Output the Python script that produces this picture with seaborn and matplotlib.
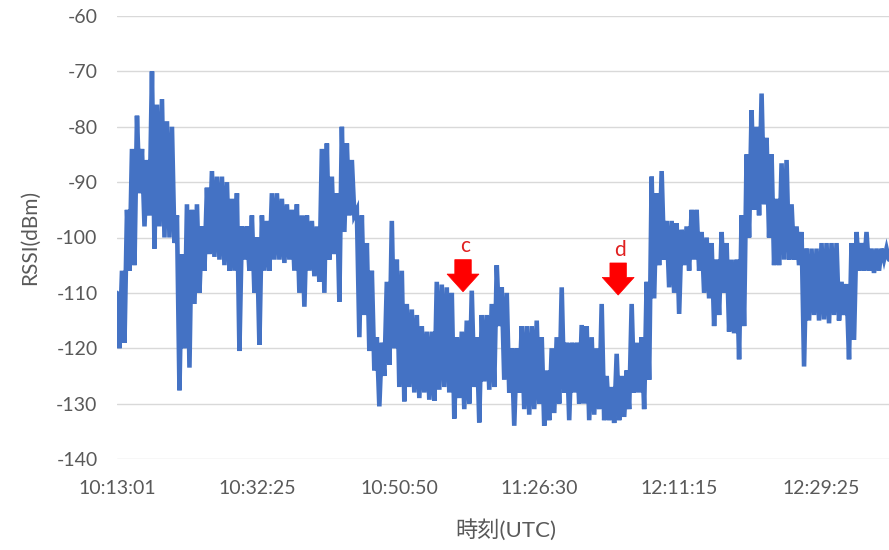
import numpy as np
import pandas as pd
import matplotlib
matplotlib.use("Agg")
import matplotlib.pyplot as plt
from matplotlib.patches import Polygon
import seaborn as sns

# Received signal strength, read as upper / lower swing of each short window (dBm)
rssi_peak = [
    -110, -106, -95, -84, -78, -84, -86, -70, -76, -75,
    -79, -80, -96, -103, -94, -95, -94, -98, -91, -88,
    -89, -89, -90, -93, -92, -98, -98, -96, -100, -96,
    -97, -92, -92, -93, -94, -95, -94, -96, -96, -97,
    -98, -84, -83, -89, -92, -80, -83, -86, -95, -96,
    -101, -106, -118, -119, -108, -97, -104, -106, -112, -113,
    -114, -116, -117, -117, -108, -108.5, -109, -110, -118, -117,
    -115, -109.6, -118, -114, -114, -112, -105, -109, -110, -120,
    -120, -116, -116, -116, -115, -118, -124, -120, -118, -109,
    -119, -119, -119, -115.8, -116, -118, -120, -112, -125, -127,
    -121, -125, -124, -112, -119, -118, -108, -89, -92, -88,
    -97, -97, -97.4, -98.6, -98, -95, -95, -99, -100, -101,
    -104, -99, -101, -104, -104, -96, -85, -77, -80, -74,
    -82, -85, -93, -86.6, -86, -94, -98, -99, -102, -102,
    -102, -101, -101, -101, -101, -108, -108.4, -101, -99, -101,
    -99, -102, -102, -102, -102,
]
rssi_dip = [
    -120, -119, -106, -105, -92, -98, -96, -102, -98, -100,
    -100, -101, -127.6, -120, -123.5, -112, -110, -106, -103, -103.5,
    -104, -105, -106, -106, -120.5, -104, -106, -110, -119.4, -106,
    -106, -104, -104, -104.6, -104, -106, -110, -112.5, -106, -107,
    -108, -110, -104, -103, -111.6, -99, -96, -96, -118, -114,
    -120.5, -124, -130.5, -125, -123, -120, -127, -129.6, -127, -128,
    -129, -128, -129.3, -129.5, -127.5, -127, -128, -132.7, -129, -131,
    -130, -127, -133.4, -126, -127.5, -127, -116, -125.7, -128, -134,
    -128, -131, -132, -131, -130, -134, -133, -131.7, -130, -128,
    -133, -128, -130, -130, -133, -132, -131, -133, -133, -133.5,
    -133, -132.4, -131, -128, -128, -131, -125.7, -111, -105, -104,
    -109, -110, -113.8, -105, -106, -104, -106, -110, -111, -116,
    -114, -110, -117, -117.3, -122, -116, -100, -95, -96, -94,
    -100, -105, -105, -104, -104, -104, -105, -123.3, -115, -114,
    -115, -114.8, -115.5, -114, -115, -114, -122, -118.5, -106, -106,
    -106, -106.4, -106, -104, -104,
]

time_labels = ["10:13:01", "10:32:25", "10:50:50", "11:26:30", "12:11:15", "12:29:25"]
time_label_samples = [0, 56, 113, 169, 225, 282]
y_ticks = list(range(-140, -59, 10))

marker_names = ["c", "d"]
marker_samples = [138.5, 200.6]
marker_tip_rssi = [-109.8, -110.4]

# one line through alternating peak / dip readings
rssi = np.empty(2 * len(rssi_peak))
rssi[0::2] = rssi_peak
rssi[1::2] = rssi_dip
df = pd.DataFrame({"sample": np.arange(len(rssi)), "rssi": rssi})

sns.set_theme(style="whitegrid")
plt.rcParams["font.family"] = ["Lato", "Noto Sans CJK JP", "DejaVu Sans"]

fig = plt.figure(figsize=(8.89, 5.5), dpi=100)
fig.patch.set_facecolor("white")
ax = fig.add_axes([117 / 889, 91 / 550, 772 / 889, 443 / 550])
ax.set_facecolor("white")

sns.lineplot(data=df, x="sample", y="rssi", ax=ax, color="#4472C4",
             linewidth=3.3, solid_joinstyle="miter", zorder=3)

ax.set_xlim(0, len(rssi) - 1)
ax.set_ylim(-140, -60)
ax.set_yticks(y_ticks)
ax.set_yticklabels([str(v) for v in y_ticks])
ax.set_xticks(time_label_samples)
ax.set_xticklabels(time_labels)

ax.grid(False)
ax.yaxis.grid(True, color="#D9D9D9", linewidth=1.0)
for s in ax.spines.values():
    s.set_visible(False)
ax.tick_params(axis="both", length=0, labelsize=14, labelcolor="#595959")
ax.tick_params(axis="y", pad=14)
ax.tick_params(axis="x", pad=15)

ax.set_ylabel("RSSI(dBm)", fontsize=15, color="#595959")
ax.yaxis.set_label_coords(-0.1, 0.5)
ax.set_xlabel("時刻(UTC)", fontsize=16, color="#595959")
ax.xaxis.set_label_coords(0.503, -0.135)


def down_arrow(ax, x_tip, y_tip, shaft_half=3.3, head_half=6.4,
               head_len=3.2, shaft_len=2.6, color="#FF0000"):
    y_base = y_tip + head_len
    y_top = y_base + shaft_len
    pts = [
        (x_tip - shaft_half, y_top), (x_tip + shaft_half, y_top),
        (x_tip + shaft_half, y_base), (x_tip + head_half, y_base),
        (x_tip, y_tip), (x_tip - head_half, y_base),
        (x_tip - shaft_half, y_base),
    ]
    ax.add_patch(Polygon(pts, closed=True, facecolor=color,
                         edgecolor=color, linewidth=0.5, zorder=5))
    return y_top


for name, xs, yt in zip(marker_names, marker_samples, marker_tip_rssi):
    top = down_arrow(ax, xs, yt)
    ax.text(xs + 0.8, top + 2.4, name, color="#E02020", fontsize=15,
            ha="center", va="center", zorder=6)

fig.savefig("out.png", dpi=100, facecolor="white")
